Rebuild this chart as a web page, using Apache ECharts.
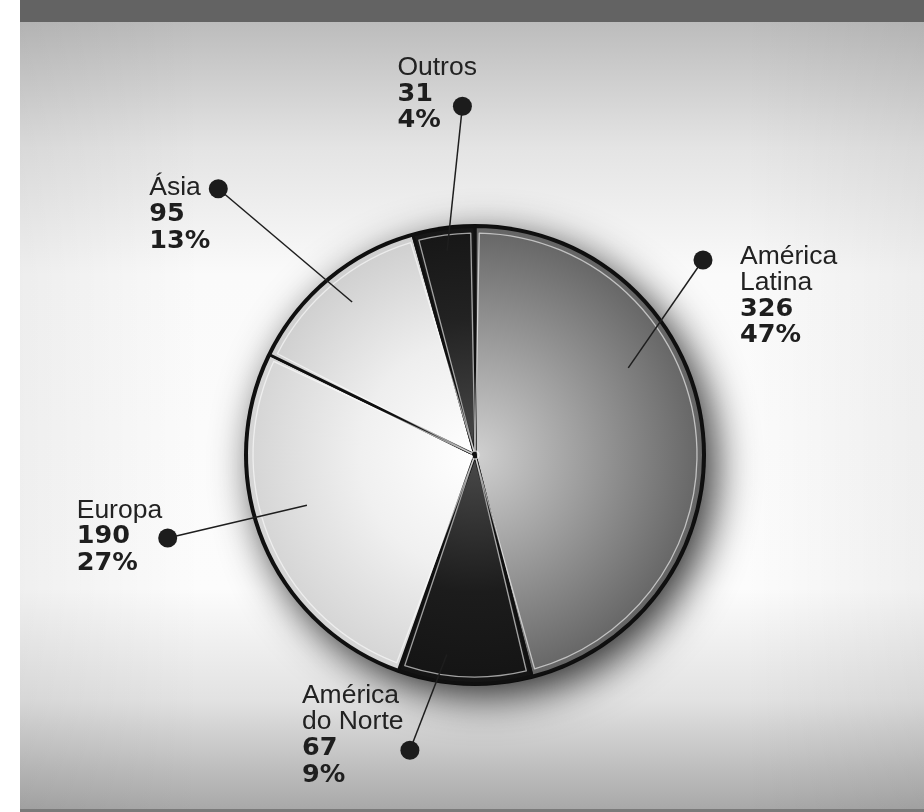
<!DOCTYPE html>
<html>
<head>
<meta charset="utf-8">
<script src="https://cdn.jsdelivr.net/npm/echarts@6/dist/echarts.min.js"></script>
<style>
html,body{margin:0;padding:0;background:#fff;}
#chart{width:924px;height:812px;}
</style>
</head>
<body>
<div id="chart"></div>
<script>
// ---- data ----
const categories = ['América Latina', 'América do Norte', 'Europa', 'Ásia', 'Outros'];
const labelNames = ['América\nLatina', 'América\ndo Norte', 'Europa', 'Ásia', 'Outros'];
const values = [326, 67, 190, 95, 31];
const percentLabels = ['47%', '9%', '27%', '13%', '4%'];

// ---- styles ----
const CX = 475, CY = 455, R = 229;
const sliceStops = [
  [['#d0d0d0', 0], ['#a0a0a0', 0.45], ['#646464', 1]],
  [['#4a4a4a', 0], ['#1c1c1c', 0.6], ['#141414', 1]],
  [['#ffffff', 0], ['#f0f0f0', 0.5], ['#d4d4d4', 1]],
  [['#ffffff', 0], ['#eeeeee', 0.5], ['#cecece', 1]],
  [['#4a4a4a', 0], ['#222222', 0.6], ['#161616', 1]]
];
// leader layout: angle offsets (deg from slice mid), radius fractions, text offset from dot
const leaderLayout = [
  { innerDeg: -22.4, innerR: 0.77, dotDeg: -33.3, dotR: 1.31, dx: 37, dy: -17 },
  { innerDeg: 5.5, innerR: 0.88, dotDeg: 9.9, dotR: 1.32, dx: -108, dy: -68 },
  { innerDeg: 5.6, innerR: 0.766, dotDeg: 7.1, dotR: 1.39, dx: -91, dy: -41 },
  { innerDeg: 1.1, innerR: 0.857, dotDeg: -4.1, dotR: 1.615, dx: -69, dy: -14 },
  { innerDeg: 0.1, innerR: 0.90, dotDeg: 5.8, dotR: 1.524, dx: -65, dy: -52 }
];
const NAME_FONT = 'normal 26.5px "Liberation Sans", Arial, sans-serif';
const NUM_FONT = 'bold 25.5px "DejaVu Sans", sans-serif';

function grad(stops) {
  return new echarts.graphic.RadialGradient(CX, CY, R,
    stops.map(s => ({ offset: s[1], color: s[0] })), true);
}

const total = values.reduce((a, b) => a + b, 0);
const midAngles = [];
let acc = 0;
values.forEach(v => { midAngles.push((acc + v / 2) / total * 360); acc += v; });

const chart = echarts.init(document.getElementById('chart'), null, { renderer: 'canvas' });

const option = {
  animation: false,
  backgroundColor: '#ffffff',
  graphic: [
    { type: 'rect', z: -10, shape: { x: 20, y: 22, width: 904, height: 788 },
      style: { fill: new echarts.graphic.LinearGradient(0, 0, 0, 1, [
        { offset: 0, color: '#bcbcbc' }, { offset: 0.16, color: '#e4e4e4' },
        { offset: 0.32, color: '#fafafa' }, { offset: 0.72, color: '#fcfcfc' },
        { offset: 0.86, color: '#e2e2e2' }, { offset: 1, color: '#a8a8a8' }]) } },
    { type: 'rect', z: -9, shape: { x: 20, y: 22, width: 904, height: 788 },
      style: { fill: new echarts.graphic.LinearGradient(0, 0, 1, 0, [
        { offset: 0, color: 'rgba(0,0,0,0.05)' }, { offset: 0.2, color: 'rgba(0,0,0,0)' },
        { offset: 0.8, color: 'rgba(0,0,0,0)' }, { offset: 1, color: 'rgba(0,0,0,0.05)' }]) } },
    { type: 'rect', z: -8, shape: { x: 20, y: 0, width: 904, height: 22 }, style: { fill: '#636363' } },
    { type: 'rect', z: -8, shape: { x: 20, y: 809, width: 904, height: 3 }, style: { fill: '#7a7a7a' } }
  ],
  polar: { center: [CX, CY], radius: R },
  angleAxis: { type: 'value', min: 0, max: 360, startAngle: 90, clockwise: true,
    axisLine: { show: false }, axisTick: { show: false }, axisLabel: { show: false }, splitLine: { show: false } },
  radiusAxis: { type: 'value', min: 0, max: 1,
    axisLine: { show: false }, axisTick: { show: false }, axisLabel: { show: false }, splitLine: { show: false } },
  series: [
    {
      type: 'pie', z: 1, silent: true, center: [CX, CY], radius: R + 2,
      startAngle: 90, label: { show: false }, labelLine: { show: false },
      itemStyle: { color: '#0d0d0d', shadowBlur: 40, shadowColor: 'rgba(0,0,0,0.8)', shadowOffsetX: 10, shadowOffsetY: 12 },
      data: [{ value: total, name: 'total' }]
    },
    {
      type: 'pie', z: 2, silent: true, center: [CX, CY], radius: R - 0.5,
      startAngle: 90, clockwise: true, label: { show: false }, labelLine: { show: false },
      itemStyle: { borderColor: '#101010', borderWidth: 3 },
      data: categories.map((c, i) => ({ name: c, value: values[i], itemStyle: { color: grad(sliceStops[i]) } }))
    },
    {
      type: 'pie', z: 3, silent: true, center: [CX, CY], radius: [4, R - 7],
      startAngle: 90, clockwise: true, padAngle: 2.2, label: { show: false }, labelLine: { show: false },
      itemStyle: { color: 'rgba(0,0,0,0)', borderColor: 'rgba(255,255,255,0.6)', borderWidth: 1.3 },
      data: categories.map((c, i) => ({ name: c, value: values[i] }))
    },
    {
      type: 'custom', coordinateSystem: 'polar', z: 10, clip: false, silent: true,
      data: midAngles.map(a => [1, a]),
      renderItem: function (params, api) {
        const i = params.dataIndex;
        const mid = api.value(1);
        const L = leaderLayout[i];
        const p1 = api.coord([L.innerR, mid + L.innerDeg]);
        const p2 = api.coord([L.dotR, mid + L.dotDeg]);
        const tx = p2[0] + L.dx, ty = p2[1] + L.dy;
        const lh = 26.5;
        const nLines = labelNames[i].split('\n').length;
        return {
          type: 'group',
          children: [
            { type: 'line', shape: { x1: p1[0], y1: p1[1], x2: p2[0], y2: p2[1] },
              style: { stroke: '#1e1e1e', lineWidth: 1.5 } },
            { type: 'circle', shape: { cx: p2[0], cy: p2[1], r: 9.5 }, style: { fill: '#1c1c1c' } },
            { type: 'text', x: tx, y: ty, style: { text: labelNames[i], fill: '#222',
              font: NAME_FONT, lineHeight: lh, verticalAlign: 'top', align: 'left' } },
            { type: 'text', x: tx, y: ty + nLines * lh, style: { text: String(values[i]), fill: '#1e1e1e',
              font: NUM_FONT, lineHeight: lh, verticalAlign: 'top', align: 'left' } },
            { type: 'text', x: tx, y: ty + (nLines + 1) * lh, style: { text: percentLabels[i], fill: '#1e1e1e',
              font: NUM_FONT, lineHeight: lh, verticalAlign: 'top', align: 'left' } }
          ]
        };
      }
    }
  ]
};
chart.setOption(option);
</script>
</body>
</html>
